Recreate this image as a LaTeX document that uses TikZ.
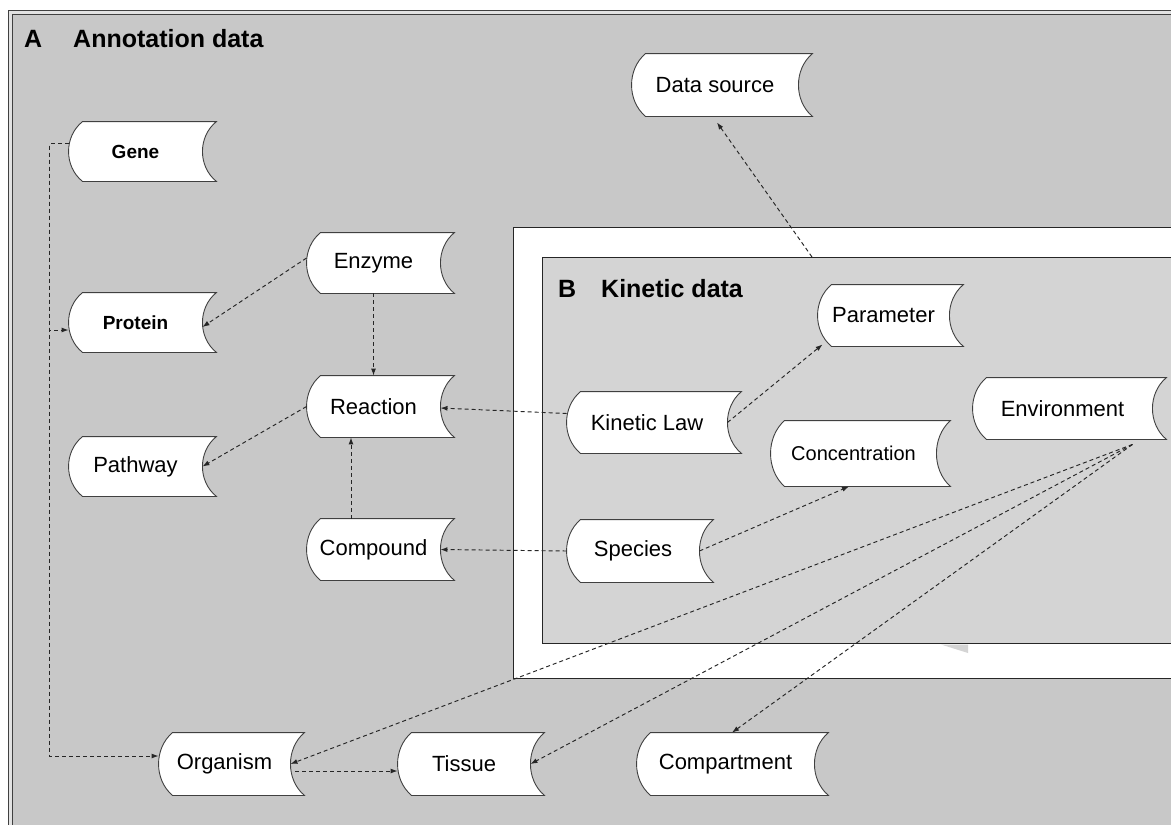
\documentclass[tikz,border=0pt]{standalone}
\usepackage{fontspec}
\setmainfont{Liberation Sans}
\usetikzlibrary{arrows.meta,calc}
\definecolor{outergray}{HTML}{C8C8C8}
\definecolor{innergray}{HTML}{D4D4D4}
\definecolor{rimgray}{HTML}{E2E2E2}
\definecolor{edgegray}{HTML}{404040}
\makeatletter
\pgfdeclareshape{storedbox}{%
  \inheritsavedanchors[from=rectangle]%
  \inheritanchorborder[from=rectangle]%
  \inheritanchor[from=rectangle]{center}%
  \inheritanchor[from=rectangle]{north}%
  \inheritanchor[from=rectangle]{south}%
  \inheritanchor[from=rectangle]{east}%
  \inheritanchor[from=rectangle]{west}%
  \inheritanchor[from=rectangle]{north east}%
  \inheritanchor[from=rectangle]{north west}%
  \inheritanchor[from=rectangle]{south east}%
  \inheritanchor[from=rectangle]{south west}%
  \inheritanchor[from=rectangle]{mid}%
  \inheritanchor[from=rectangle]{base}%
  \inheritanchor[from=rectangle]{text}%
  \backgroundpath{%
    \southwest \edef\sdxa{\the\pgf@x}\edef\sdya{\the\pgf@y}%
    \northeast \edef\sdxb{\the\pgf@x}\edef\sdyb{\the\pgf@y}%
    \pgfmathsetmacro\sdq{(\sdyb-\sdya)/4}%
    \pgfpathmoveto{\pgfpoint{\sdxa+14pt}{\sdyb}}%
    \pgfpathlineto{\pgfpoint{\sdxb+14pt}{\sdyb}}%
    \pgfpathcurveto{\pgfpoint{\sdxb-4.667pt}{\sdyb-\sdq pt}}{\pgfpoint{\sdxb-4.667pt}{\sdya+\sdq pt}}{\pgfpoint{\sdxb+14pt}{\sdya}}%
    \pgfpathlineto{\pgfpoint{\sdxa+14pt}{\sdya}}%
    \pgfpathcurveto{\pgfpoint{\sdxa-4.667pt}{\sdya+\sdq pt}}{\pgfpoint{\sdxa-4.667pt}{\sdyb-\sdq pt}}{\pgfpoint{\sdxa+14pt}{\sdyb}}%
    \pgfpathclose
  }%
}
\makeatother
\newcommand{\lblfont}{\fontsize{22pt}{26pt}\selectfont}
\newcommand{\boldlblfont}{\fontsize{19pt}{23pt}\selectfont\bfseries}
\newcommand{\titlefont}{\fontsize{25pt}{30pt}\selectfont\bfseries}
\begin{document}
\begin{tikzpicture}[x=1pt,y=-1pt,
  sd/.style 2 args={shape=storedbox, draw=edgegray, fill=white, line width=0.9pt,
     inner sep=0pt, minimum width=#1, minimum height=#2, font=\lblfont},
  conn/.style={draw=black!85, line width=0.95pt, dash pattern=on 4pt off 3pt,
     -{Latex[length=7pt,width=5pt]}},
  title/.style={font=\titlefont, inner sep=0pt, anchor=base west},
  panel/.style={draw=black!85, line width=1.2pt, inner sep=0pt, anchor=north west}]
\useasboundingbox (0,0) rectangle (1171,825);
\clip (0,0) rectangle (1171,825);
\fill[white] (0,0) rectangle (1171,825);
% outer frame (annotation data)
\draw[line width=0.9pt, draw=edgegray, fill=rimgray] (8,10) rectangle (1200,860);
\draw[line width=0.9pt, draw=edgegray, fill=outergray] (12,14) rectangle (1200,860);
% kinetic data panel
\node[panel, fill=white, minimum width=700pt, minimum height=451pt] (kinouter) at (513,227) {};
\node[panel, fill=innergray, minimum width=700pt, minimum height=386pt] (kinbox) at (542,257) {};
\fill[black!17] (941,644.5) -- (968,644.5) -- (968,653) -- cycle;
% titles
\node[title] (labA) at (24,47) {A};
\node[title] (labAnn) at (73,47) {Annotation data};
\node[title] (labB) at (558,297) {B};
\node[title] (labKin) at (601,297) {Kinetic data};
% data nodes
\node[sd={133pt}{59pt}, font=\boldlblfont] (gene) at (135.5,151.5) {Gene};
\node[sd={133pt}{59pt}, font=\boldlblfont] (protein) at (135.5,322.5) {Protein};
\node[sd={133pt}{59pt}] (pathway) at (135.5,466.5) {Pathway};
\node[sd={133pt}{60pt}] (enzyme) at (373.5,263) {Enzyme};
\node[sd={133pt}{61pt}] (reaction) at (373.5,406.5) {Reaction};
\node[sd={133pt}{61pt}] (compound) at (373.5,549.5) {Compound};
\node[sd={166pt}{62pt}] (datasource) at (715,85) {Data source};
\node[sd={131pt}{61pt}] (parameter) at (883.5,315.5) {Parameter};
\node[sd={160pt}{61pt}] (kinlaw) at (647,422.5) {Kinetic Law};
\node[sd={179pt}{61pt}] (environment) at (1062.5,408.5) {Environment};
\node[sd={165pt}{65pt}, font=\fontsize{20pt}{24pt}\selectfont] (concentration) at (853.5,453.5) {Concentration};
\node[sd={132pt}{62pt}] (species) at (633,551) {Species};
\node[sd={131pt}{62pt}] (organism) at (224.5,764) {Organism};
\node[sd={132pt}{62pt}] (tissue) at (464,764) {Tissue};
\node[sd={177pt}{62pt}] (compartment) at (725.5,764) {Compartment};
% connectors
\draw[conn] ([yshift=8pt]gene.west) -- ++(-19,0) |- ([yshift=-7.5pt]protein.west);
\draw[conn] ([yshift=8pt]gene.west) -- ++(-19,0) |- ([yshift=8pt]organism.west);
\draw[conn] ([yshift=5pt]enzyme.west) -- ([yshift=-4.5pt]protein.east);
\draw[conn] (enzyme.south) -- (reaction.north);
\draw[conn] (reaction.west) -- (pathway.east);
\draw[conn] ([xshift=-22.5pt]compound.north) -- ([xshift=-22.5pt]reaction.south);
\draw[conn] ([yshift=9pt]kinlaw.west) -- ([yshift=-1.5pt]reaction.east);
\draw[conn] (species.west) -- (compound.east);
\draw[conn] (kinlaw.east) -- ([xshift=5pt,yshift=2pt]parameter.south west);
\draw[conn] (species.east) -- ([xshift=-4.5pt]concentration.south);
\coordinate (envpt) at ([xshift=-20pt,yshift=-5pt]environment.south east);
\draw[conn] (envpt) -- (organism.east);
\draw[conn] (envpt) -- (tissue.east);
\draw[conn] (envpt) -- ([xshift=6.5pt]compartment.north);
\draw[conn] ([xshift=5pt,yshift=-7pt]organism.east) -- ([yshift=-7pt]tissue.west);
\draw[conn] ([xshift=270pt]kinbox.north west) -- ([xshift=2pt,yshift=-6pt]datasource.south);
\end{tikzpicture}
\end{document}
